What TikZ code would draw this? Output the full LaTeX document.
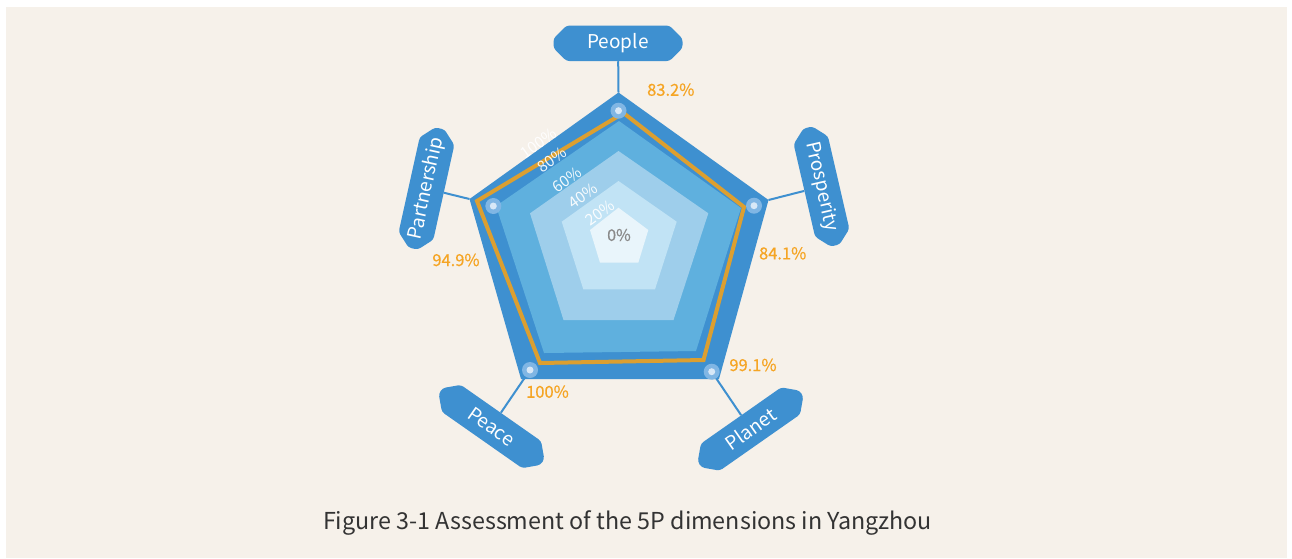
\documentclass[tikz,border=0pt]{standalone}
\usepackage{fontspec}
\setmainfont{Noto Sans CJK SC}
\newfontfamily\medfont{Noto Sans CJK SC}[FakeBold=0.5]
\usetikzlibrary{shapes.misc}
\definecolor{cream}{HTML}{F6F1EA}
\definecolor{dblue}{HTML}{3E90D0}
\definecolor{band80}{HTML}{5FB0DE}
\definecolor{band60}{HTML}{9ECEEB}
\definecolor{band40}{HTML}{C1E3F5}
\definecolor{band20}{HTML}{E9F5FB}
\definecolor{gold}{HTML}{DC9F30}
\definecolor{orangetxt}{HTML}{F5A524}
\definecolor{mkout}{HTML}{80B6E4}
\definecolor{mkin}{HTML}{D8E8F7}
\definecolor{captxt}{HTML}{333333}
\definecolor{zerotxt}{HTML}{8A8A8A}
\begin{document}
\begin{tikzpicture}[x=1pt,y=-1pt,
  lbl/.style={chamfered rectangle, chamfered rectangle xsep=5pt, chamfered rectangle ysep=8pt,
    rounded corners=3pt, fill=dblue, text=white, inner sep=0pt, minimum height=33pt,
    font=\fontsize{19}{22}\selectfont},
  axisline/.style={draw=dblue, line width=2pt},
  mk/.style={circle, fill=mkout, minimum size=16pt, inner sep=0pt,
    path picture={\fill[mkin] (path picture bounding box.center) circle (3.5pt);}},
  pct/.style={text=orangetxt, font=\medfont\fontsize{16.5}{19}\selectfont},
  ring/.style={text=white, opacity=0.92, rotate=35.6, font=\fontsize{15.5}{18}\selectfont}
]
\useasboundingbox (0,0) rectangle (1292,558);
\fill[white] (0,0) rectangle (1292,558);
\fill[cream] (6,7) rectangle (1287,558);

% outer 100% pentagon
\coordinate (vTop) at (618.5,92.5);
\coordinate (vRight) at (768.5,200);
\coordinate (vBR) at (719,379);
\coordinate (vBL) at (521,379);
\coordinate (vLeft) at (469.5,199);
\fill[dblue] (vTop) -- (vRight) -- (vBR) -- (vBL) -- (vLeft) -- cycle;
% bands
\fill[band80] (619,121) -- (741,208) -- (696,351) -- (544,353) -- (496,206) -- cycle;
\fill[band60] (618.5,151) -- (708.3,213.3) -- (673.5,320) -- (563.5,320) -- (530,213.3) -- cycle;
\fill[band40] (618.5,181) -- (676.7,221.7) -- (655,289.3) -- (583.3,289.3) -- (561.7,221.7) -- cycle;
\fill[band20] (618.5,207.7) -- (648.3,230) -- (638.3,262.7) -- (600,262.7) -- (590,230) -- cycle;
% data polygon
\draw[gold, line width=4pt, line join=miter] (623.5,113) -- (744,207) -- (703.5,360) -- (540,363) -- (477,201) -- cycle;

% label boxes
\node[lbl, minimum width=129pt] (bPeople) at (618,43.3) {People};
\node[lbl, minimum width=121pt, rotate=-77] (bProsperity) at (821.5,186.5) {Prosperity};
\node[lbl, minimum width=123pt, rotate=77.5] (bPartnership) at (426.5,188.5) {Partnership};
\node[lbl, minimum width=124pt, rotate=-35] (bPeace) at (491.5,426.5) {Peace};
\node[lbl, minimum width=124pt, rotate=35] (bPlanet) at (750.5,429) {Planet};

% marker centres
\coordinate (mPeopleC) at (618.5,110.7);
\coordinate (mPeaceC) at (530,370);
\coordinate (mPlanetC) at (711.7,371.7);

% connectors
\draw[axisline] (vTop) -- (bPeople);
\draw[axisline] (vRight) -- (bProsperity);
\draw[axisline] (vLeft) -- (bPartnership);
\draw[axisline] (mPeaceC) -- (bPeace);
\draw[axisline] (mPlanetC) -- (bPlanet);

\node[mk] (mPeople) at (mPeopleC) {};
\node[mk] (mProsperity) at (754,205.7) {};
\node[mk] (mPartnership) at (493.3,206) {};
\node[mk] (mPeace) at (mPeaceC) {};
\node[mk] (mPlanet) at (mPlanetC) {};

% ring labels
\node[ring] (r100) at (538.3,143.3) {100\%};
\node[ring] (r80) at (551.7,160) {80\%};
\node[ring] (r60) at (566.7,179.3) {60\%};
\node[ring] (r40) at (583.3,196) {40\%};
\node[ring] (r20) at (600,212.7) {20\%};
\node[text=zerotxt, font=\medfont\fontsize{16}{18}\selectfont] (r0) at (619,235) {0\%};

% values
\node[pct] (tPeople) at (670.8,89.7) {83.2\%};
\node[pct] (tProsperity) at (782.7,253.3) {84.1\%};
\node[pct] (tPlanet) at (753,365) {99.1\%};
\node[pct] (tPeace) at (547.5,391.7) {100\%};
\node[pct] (tPartnership) at (456,260) {94.9\%};

% caption
\node[text=captxt, font=\fontsize{23.3}{27}\selectfont] (caption) at (627.5,523) {Figure 3-1 Assessment of the 5P dimensions in Yangzhou};
\end{tikzpicture}
\end{document}
